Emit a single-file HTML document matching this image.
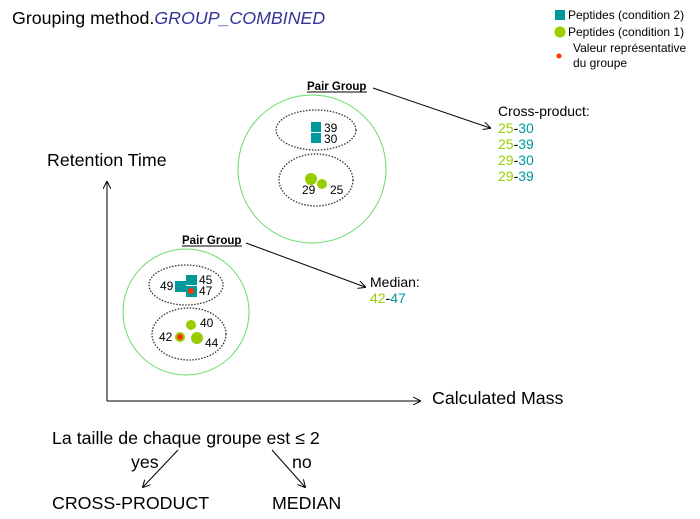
<!DOCTYPE html>
<html><head><style>body{margin:0;background:#fff}svg{display:block}text{font-family:"Liberation Sans",Arial,sans-serif}</style></head><body>
<svg width="700" height="519" viewBox="0 0 700 519" xmlns="http://www.w3.org/2000/svg">
<defs><marker id="a" markerWidth="8" markerHeight="8" refX="7" refY="4" orient="auto" markerUnits="userSpaceOnUse"><path d="M0,0 L8,4 L0,8" fill="none" stroke="#000" stroke-width="1"/></marker></defs>
<text x="12" y="24" font-size="17.8">Grouping method.<tspan fill="#333399" font-style="italic">GROUP_COMBINED</tspan></text>
<rect x="555" y="10" width="10" height="10" fill="#009999"/>
<text x="568" y="19" font-size="12">Peptides (condition 2)</text>
<circle cx="560" cy="32" r="5.5" fill="#99cc00"/>
<text x="568" y="36" font-size="12">Peptides (condition 1)</text>
<circle cx="559" cy="56" r="2.5" fill="#ff3300"/>
<text x="573" y="52" font-size="12">Valeur représentative</text>
<text x="573" y="67" font-size="12">du groupe</text>
<line x1="107" y1="401" x2="107" y2="182" stroke="#000" marker-end="url(#a)"/>
<line x1="107" y1="401" x2="420" y2="401" stroke="#000" marker-end="url(#a)"/>
<text x="47" y="166" font-size="17.8">Retention Time</text>
<text x="432" y="404" font-size="17.8">Calculated Mass</text>
<circle cx="312" cy="169" r="74" fill="none" stroke="#66dd66"/>
<ellipse cx="316" cy="130" rx="40" ry="20" fill="none" stroke="#333" stroke-dasharray="1.5,1.5" stroke-width="1.3"/>
<ellipse cx="316" cy="180" rx="37" ry="26" fill="none" stroke="#333" stroke-dasharray="1.5,1.5" stroke-width="1.3"/>
<rect x="311" y="122" width="10" height="10" fill="#009999"/>
<rect x="311" y="133" width="10" height="10" fill="#009999"/>
<text x="324" y="132" font-size="12">39</text><text x="324" y="143" font-size="12">30</text>
<circle cx="311" cy="179" r="6" fill="#99cc00"/><circle cx="322" cy="184" r="5" fill="#99cc00"/>
<text x="302" y="194" font-size="12">29</text><text x="330" y="194" font-size="12">25</text>
<text x="307" y="90" font-size="11.5" font-weight="bold">Pair Group</text>
<line x1="307" y1="92" x2="367" y2="92" stroke="#000"/>
<line x1="373" y1="88" x2="490" y2="128" stroke="#000" marker-end="url(#a)"/>
<text x="498" y="116" font-size="14">Cross-product:</text>
<text x="498" y="133" font-size="14"><tspan fill="#99cc00">25</tspan>-<tspan fill="#009999">30</tspan></text>
<text x="498" y="149" font-size="14"><tspan fill="#99cc00">25</tspan>-<tspan fill="#009999">39</tspan></text>
<text x="498" y="165" font-size="14"><tspan fill="#99cc00">29</tspan>-<tspan fill="#009999">30</tspan></text>
<text x="498" y="181" font-size="14"><tspan fill="#99cc00">29</tspan>-<tspan fill="#009999">39</tspan></text>
<circle cx="186" cy="312" r="63" fill="none" stroke="#66dd66"/>
<ellipse cx="186" cy="285" rx="37" ry="20" fill="none" stroke="#333" stroke-dasharray="1.5,1.5" stroke-width="1.3"/>
<ellipse cx="189" cy="334" rx="37" ry="26" fill="none" stroke="#333" stroke-dasharray="1.5,1.5" stroke-width="1.3"/>
<rect x="186" y="275" width="11" height="10" fill="#009999"/>
<rect x="186" y="286" width="11" height="11" fill="#009999"/>
<rect x="175" y="281" width="11" height="11" fill="#009999"/>
<circle cx="191" cy="291" r="3" fill="#ff3300"/>
<text x="160" y="290" font-size="12">49</text><text x="199" y="284" font-size="12">45</text><text x="199" y="295" font-size="12">47</text>
<circle cx="191" cy="325" r="5" fill="#99cc00"/><circle cx="197" cy="338" r="6" fill="#99cc00"/>
<circle cx="180" cy="337" r="5" fill="#99cc00"/><circle cx="180" cy="337" r="3" fill="#ff3300"/>
<text x="200" y="327" font-size="12">40</text><text x="205" y="347" font-size="12">44</text><text x="159" y="341" font-size="12">42</text>
<text x="182" y="244" font-size="11.5" font-weight="bold">Pair Group</text>
<line x1="182" y1="246" x2="242" y2="246" stroke="#000"/>
<line x1="246" y1="243" x2="365" y2="287" stroke="#000" marker-end="url(#a)"/>
<text x="370" y="287" font-size="14">Median:</text>
<text x="370" y="303" font-size="14"><tspan fill="#99cc00">42</tspan>-<tspan fill="#009999">47</tspan></text>
<text x="52" y="444" font-size="17.8">La taille de chaque groupe est ≤ 2</text>
<text x="131" y="468" font-size="17.8">yes</text><text x="292" y="468" font-size="17.8">no</text>
<line x1="178" y1="450" x2="143" y2="487" stroke="#000" marker-end="url(#a)"/>
<line x1="272" y1="450" x2="305" y2="487" stroke="#000" marker-end="url(#a)"/>
<text x="52" y="509" font-size="17.8">CROSS-PRODUCT</text>
<text x="272" y="509" font-size="17.8">MEDIAN</text>
</svg>
</body></html>
